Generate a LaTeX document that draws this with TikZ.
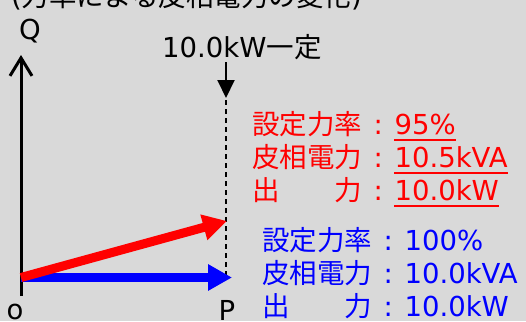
\documentclass[tikz,border=0pt]{standalone}
\usepackage{fontspec}
\setmainfont{DejaVu Sans}
\newfontfamily\cjk{Noto Sans CJK JP}
\usetikzlibrary{arrows.meta}
\newcommand{\J}[1]{{\cjk #1}}
\newcommand{\Colon}{\makebox[32pt][c]{:}}
\definecolor{bg}{HTML}{D9D9D9}
\definecolor{rd}{HTML}{FF0000}
\definecolor{bl}{HTML}{0000FF}
\tikzset{
  lbl/.style={anchor=base west, inner sep=0pt, font=\fontsize{27.5}{32}\selectfont},
  axisline/.style={line width=3pt, -{Straight Barb[length=18pt,width=22pt]}},
  vecred/.style={rd, line width=9pt, -{Triangle[length=24pt,width=25pt]}},
  vecblue/.style={bl, line width=9pt, -{Triangle[length=24pt,width=25pt]}},
  guide/.style={line width=1.5pt, dash pattern=on 5pt off 4pt},
  pointer/.style={line width=2pt, -{Triangle[length=18pt,width=17pt]}},
  uline/.style={line width=1.6pt}
}
\begin{document}
\begin{tikzpicture}[x=1pt,y=-1pt]
\fill[bg] (0,0) rectangle (526,321);
\useasboundingbox (0,0) rectangle (526,321);
\begin{scope}
\clip (0,0) rectangle (526,11);
\node[lbl] (title) at (11,7) {(\J{力率による皮相電力の変化})};
\end{scope}
% axes
\coordinate (o) at (21,296);
\coordinate (qtop) at (21,55);
\coordinate (origin) at (21,277.5);
\coordinate (bluetip) at (232,277.5);
\coordinate (redtip) at (227,221);
\coordinate (dtop) at (226,100);
\coordinate (dbot) at (226,275);
\coordinate (ptop) at (226,62);
\coordinate (pend) at (226,98);
\draw[axisline] (o) -- (qtop);
\node[lbl] (Q) at (19,40) {Q};
\node[lbl] (O) at (6.5,319) {o};
\node[lbl] (P) at (218.5,320) {P};
% dashed guide and pointer
\draw[guide] (dtop) -- (dbot);
\draw[pointer] (ptop) -- (pend);
\node[lbl] (const) at (162,57) {10.0kW\J{一定}};
% vectors
\draw[vecblue] (origin) -- (bluetip);
\draw[vecred] (origin) -- (redtip);
% red text
\node[lbl, text=rd] (r1) at (252,134) {\J{設定力率}\Colon};
\node[lbl, text=rd] (r1v) at (r1.base east) {95\%};
\node[lbl, text=rd] (r2) at (252,167) {\J{皮相電力}\Colon};
\node[lbl, text=rd] (r2v) at (r2.base east) {10.5kVA};
\node[lbl, text=rd] (r3) at (252,200) {\J{出\hspace{2em}力}\Colon};
\node[lbl, text=rd] (r3v) at (r3.base east) {10.0kW};
\draw[uline, rd] ([yshift=-6pt]r1v.base west) -- ([yshift=-6pt]r1v.base east);
\draw[uline, rd] ([yshift=-6pt]r2v.base west) -- ([yshift=-6pt]r2v.base east);
\draw[uline, rd] ([yshift=-6pt]r3v.base west) -- ([yshift=-6pt]r3v.base east);
% blue text
\node[lbl, text=bl] (b1) at (262,250) {\J{設定力率}\Colon};
\node[lbl, text=bl] (b1v) at (b1.base east) {100\%};
\node[lbl, text=bl] (b2) at (262,283) {\J{皮相電力}\Colon};
\node[lbl, text=bl] (b2v) at (b2.base east) {10.0kVA};
\node[lbl, text=bl] (b3) at (262,316) {\J{出\hspace{2em}力}\Colon};
\node[lbl, text=bl] (b3v) at (b3.base east) {10.0kW};
\end{tikzpicture}
\end{document}
